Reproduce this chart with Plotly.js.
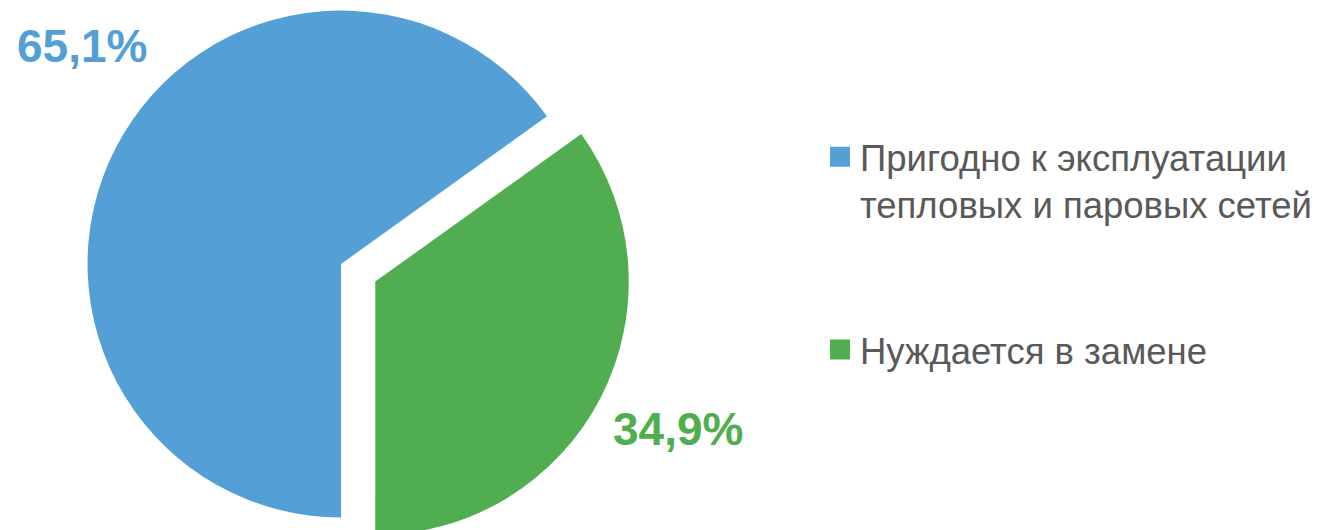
<!DOCTYPE html>
<html>
<head>
<meta charset="utf-8">
<script src="https://cdn.plot.ly/plotly-3.0.1.min.js"></script>
<style>
html, body { margin: 0; padding: 0; overflow: hidden; background: #ffffff; width: 1326px; height: 530px; }
#chart { position: absolute; left: 0; top: -40px; width: 1326px; height: 640px; }
</style>
</head>
<body>
<div id="chart"></div>
<script>
// Data
const categories = [
  "Пригодно к эксплуатации<br>тепловых и паровых сетей<br>\u00A0<br>\u00A0",
  "Нуждается в замене"
];
const values = [65.1, 34.9];
const sliceColors = ["#539FD6", "#50AE50"];
const pulls = [0, 0.152];

const valueLabels = values.map(v => v.toFixed(1).replace('.', ',') + '%');

const trace = {
  type: 'pie',
  labels: categories,
  values: values,
  sort: false,
  direction: 'clockwise',
  rotation: 180,
  pull: pulls,
  textinfo: 'none',
  hoverinfo: 'label+percent',
  marker: { colors: sliceColors, line: { width: 0 } },
  domain: { x: [0.036953, 0.477376], y: [0.06875, 0.98125] }
};

const labelPos = [
  { x: 0.0615, y: 0.8656 },
  { x: 0.5113, y: 0.2672 }
];

const annotations = valueLabels.map((t, i) => ({
  xref: 'paper', yref: 'paper',
  x: labelPos[i].x, y: labelPos[i].y,
  xanchor: 'center', yanchor: 'middle',
  text: t,
  showarrow: false,
  font: { family: 'Liberation Sans, Arial, sans-serif', size: 46, color: sliceColors[i], weight: 'bold' }
}));

const layout = {
  width: 1326,
  height: 640,
  margin: { l: 0, r: 0, t: 0, b: 0, pad: 0 },
  paper_bgcolor: '#ffffff',
  plot_bgcolor: '#ffffff',
  showlegend: true,
  legend: {
    x: 0.6184, xanchor: 'left',
    y: 0.7398, yanchor: 'top',
    valign: 'top',
    bgcolor: 'rgba(0,0,0,0)',
    font: { family: 'Liberation Sans, Arial, sans-serif', size: 36.5, color: '#595959' }
  },
  annotations: annotations
};

Plotly.newPlot('chart', [trace], layout, { displayModeBar: false, staticPlot: true }).then(gd => {
  gd.querySelectorAll('path.legendpie').forEach(p => {
    p.setAttribute('transform', 'translate(20,0) scale(1.667)');
  });
});
</script>
</body>
</html>
